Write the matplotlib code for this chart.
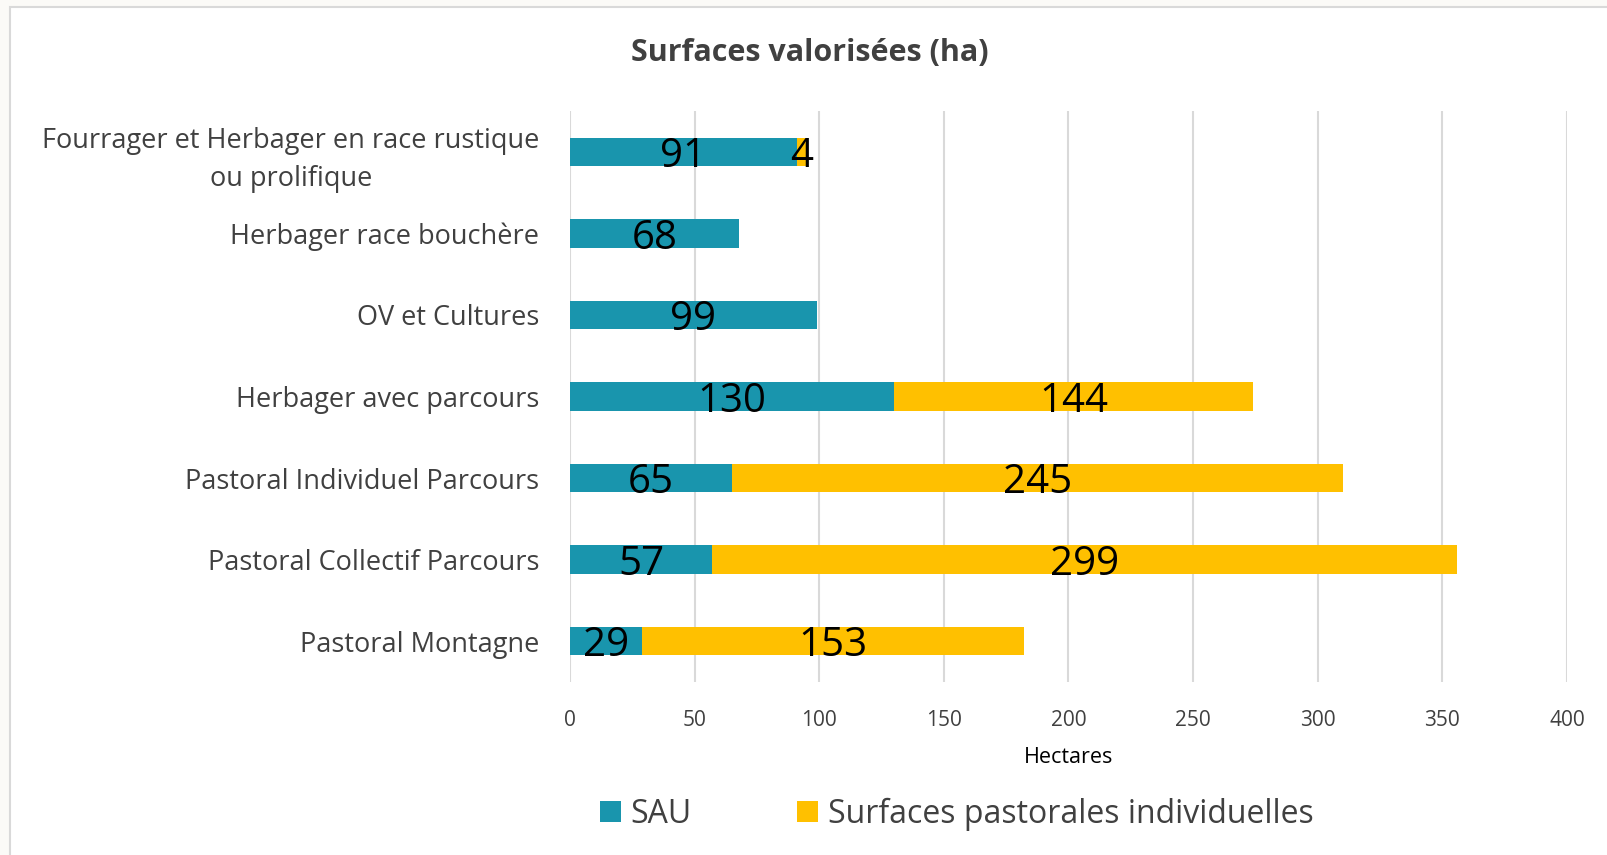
import matplotlib.pyplot as plt
from matplotlib.patches import Rectangle

categories = [
    'Fourrager et Herbager en race rustique\nou prolifique',
    'Herbager race bouchère',
    'OV et Cultures',
    'Herbager avec parcours',
    'Pastoral Individuel Parcours',
    'Pastoral Collectif Parcours',
    'Pastoral Montagne',
]
sau = [91, 68, 99, 130, 65, 57, 29]
pastoral = [4, 0, 0, 144, 245, 299, 153]
xticks = [0, 50, 100, 150, 200, 250, 300, 350, 400]

C_SAU = '#1995ad'
C_PAST = '#ffc000'
TXT = '#404040'
plt.rcParams['font.family'] = ['Open Sans', 'DejaVu Sans']

W, H = 1608, 855
fig = plt.figure(figsize=(W / 100, H / 100), dpi=100)
fig.patch.set_facecolor('#fbfaf7')
# white chart area with thin gray frame, behind everything
fig.patches.append(Rectangle((10 / W, -0.01), 1.0, 1 - 7 / H + 0.01, transform=fig.transFigure,
                             facecolor='white', edgecolor='#d9d9d9', linewidth=1.5, zorder=-10))

ax = fig.add_axes([570 / W, 1 - 682 / H, (1567 - 570) / W, (682 - 111) / H])
ax.set_facecolor('none')

y = list(range(len(categories)))
ax.barh(y, sau, height=0.35, color=C_SAU, label='SAU', zorder=2)
ax.barh(y, pastoral, left=sau, height=0.35, color=C_PAST,
        label='Surfaces pastorales individuelles', zorder=2)

for i in y:
    ax.text(sau[i] / 2, i + 0.06, str(sau[i]), ha='center', va='center',
            fontsize=29, color='black', zorder=3)
    if pastoral[i] > 0:
        ax.text(sau[i] + pastoral[i] / 2, i + 0.06, str(pastoral[i]), ha='center', va='center',
                fontsize=29, color='black', zorder=3)

ax.set_ylim(len(categories) - 0.5, -0.5)
ax.set_xlim(0, 400)
ax.set_xticks(xticks)
ax.set_yticks(y)
ax.set_yticklabels(categories, fontsize=19.5, color=TXT, linespacing=1.45)
for lab in ax.get_yticklabels():
    lab.set_multialignment('center')
ax.tick_params(axis='y', length=0, pad=22)
ax.tick_params(axis='x', length=0, labelsize=15, labelcolor=TXT, pad=20)
ax.grid(axis='x', color='#d9d9d9', linewidth=1.5, zorder=1)
for s in ax.spines.values():
    s.set_visible(False)
ax.set_xlabel('Hectares', fontsize=15.5, color='black', labelpad=12)

fig.text(810 / W, 1 - 53 / H, 'Surfaces valorisées (ha)', ha='center', va='center',
         fontsize=22, fontweight='bold', color=TXT)

fig.legend(loc='center', bbox_to_anchor=(957 / W, 1 - 814 / H), ncol=2, frameon=False,
           fontsize=23, handlelength=0.65, handleheight=0.65, handletextpad=0.3,
           columnspacing=3.3, labelcolor=TXT)

fig.savefig('out.png', dpi=100, facecolor=fig.get_facecolor())
